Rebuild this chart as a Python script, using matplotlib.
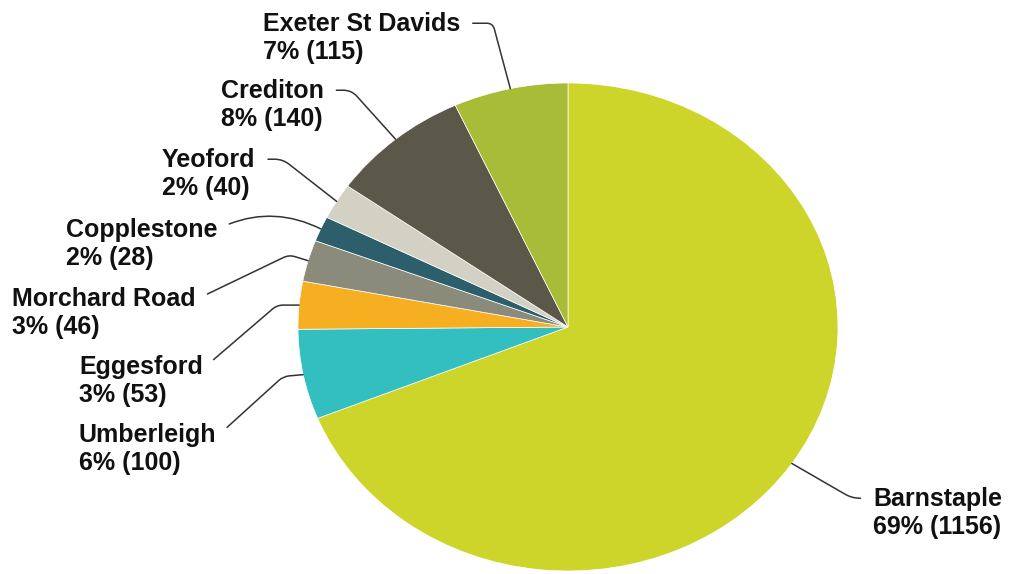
import numpy as np
import matplotlib.pyplot as plt

# passenger counts per station on the line
stations = ['Barnstaple', 'Umberleigh', 'Eggesford', 'Morchard Road',
            'Copplestone', 'Yeoford', 'Crediton', 'Exeter St Davids']
passengers = [1156, 100, 53, 46, 28, 40, 140, 115]
colours = ['#CDD42A', '#33BEBF', '#F5AF20', '#8B8B7B',
           '#2C5E6B', '#D3D1C3', '#5B5849', '#A9BC38']

# label anchors, pixels from top-left: (left edge of text, centre of block)
label_pos = [(873, 513), (79, 449), (79, 381), (12, 313),
             (66, 244), (162, 174), (221, 105), (263, 38)]
leaders = ['angle,angleA=0,angleB=-30,rad=8',
           'arc,angleA=0,armA=3,angleB=185,armB=20,rad=6',
           'arc,angleA=0,armA=3,angleB=180,armB=22,rad=6',
           'arc,angleA=0,armA=3,angleB=163,armB=20,rad=6',
           'arc3,rad=-0.25',
           'angle,angleA=0,angleB=142,rad=8',
           'angle,angleA=0,angleB=132,rad=8',
           'angle,angleA=0,angleB=105,rad=6']

W, H = 1015, 574
fig = plt.figure(figsize=(W / 100, H / 100), dpi=100)
ax = fig.add_axes([298 / W, 3 / H, 540 / W, 488 / H])

wedges, _ = ax.pie(passengers, colors=colours, startangle=90, counterclock=False,
                   wedgeprops=dict(edgecolor='white', linewidth=0.5))
ax.set_aspect('auto')
ax.set_xlim(-1, 1)
ax.set_ylim(-1, 1)

total = sum(passengers)
for w, name, n, (px, py), style in zip(wedges, stations, passengers, label_pos, leaders):
    mid = np.deg2rad((w.theta1 + w.theta2) / 2)
    xy = (np.cos(mid), np.sin(mid))
    pct = round(100 * n / total)
    on_right = px > 568
    ax.annotate(f'{name}\n{pct}% ({n})', xy=xy, xycoords='data',
                xytext=(px, H - py), textcoords='figure pixels',
                ha='left', va='center', fontsize=18, fontweight='bold',
                family='Liberation Sans', color='#111111', linespacing=1.25,
                annotation_clip=False,
                arrowprops=dict(arrowstyle='-', color='#333333', lw=1.1,
                                connectionstyle=style,
                                relpos=(0 if on_right else 1, 0.78),
                                shrinkA=7, shrinkB=0))

fig.savefig('out.png', dpi=100)
